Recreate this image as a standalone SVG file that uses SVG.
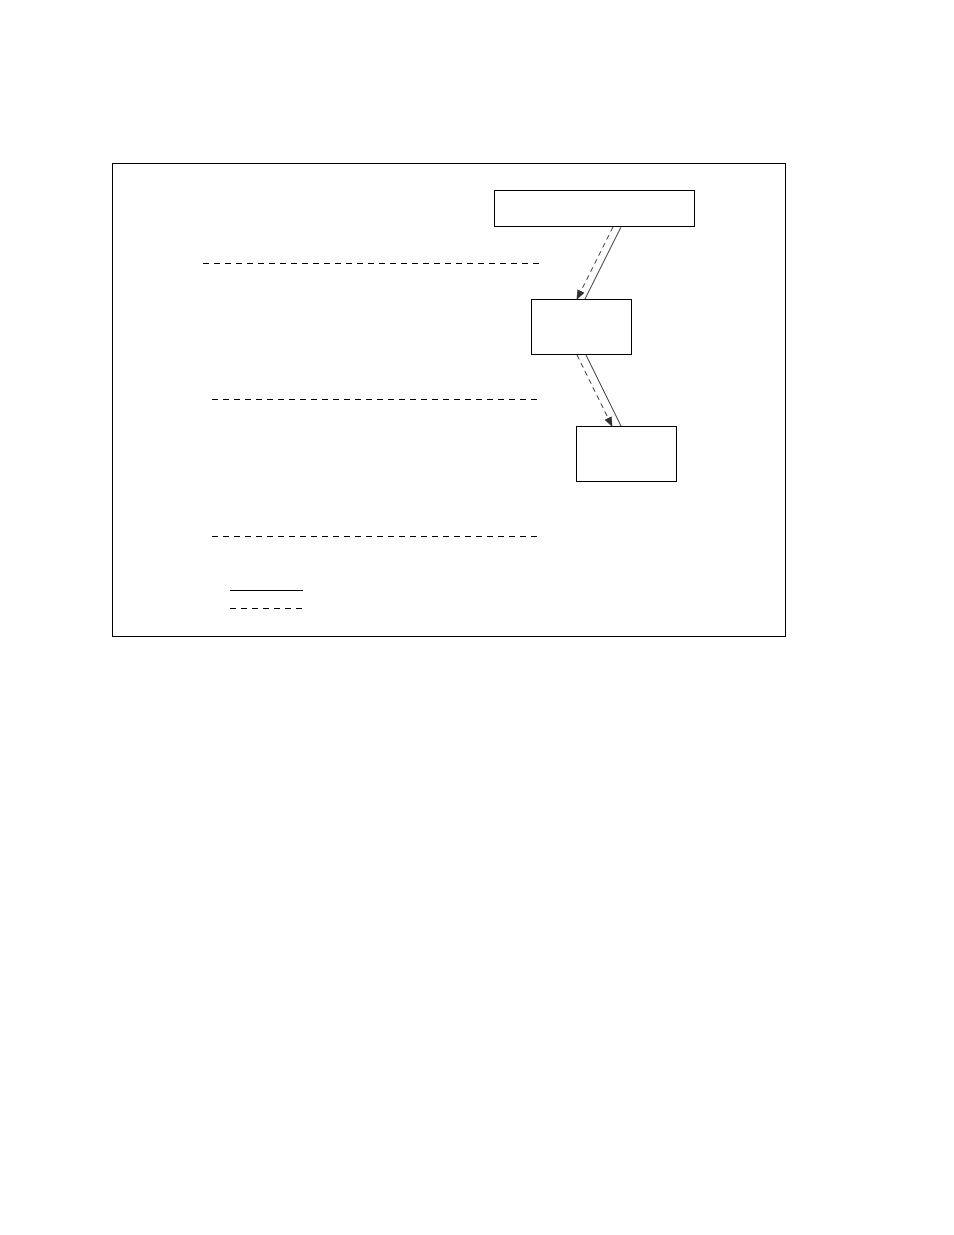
<svg xmlns="http://www.w3.org/2000/svg" width="954" height="1235" viewBox="0 0 954 1235">
<style>
.box{fill:#fff;stroke:#000;stroke-width:1}
.dash{fill:none;stroke:#000;stroke-width:1;stroke-dasharray:6 5}
.solid{fill:none;stroke:#000;stroke-width:1}
.conn{fill:none;stroke:#000;stroke-width:0.8}
.connd{fill:none;stroke:#000;stroke-width:0.8;stroke-dasharray:5 4}
</style>
<defs>
<marker id="arr" markerWidth="10" markerHeight="8" refX="9" refY="4" orient="auto" markerUnits="userSpaceOnUse">
<path d="M0,0 L10,4 L0,8 z" fill="#333"/>
</marker>
</defs>
<rect width="954" height="1235" fill="#fff"/>
<rect id="frame" x="112.5" y="163.5" width="673" height="473" class="box"/>
<g id="guides">
<line x1="203" y1="263.5" x2="541" y2="263.5" class="dash"/>
<line x1="212" y1="399.5" x2="541" y2="399.5" class="dash"/>
<line x1="212" y1="536.5" x2="541" y2="536.5" class="dash"/>
</g>
<g id="legend">
<line x1="230" y1="590.5" x2="303" y2="590.5" class="solid"/>
<line x1="230" y1="608.5" x2="303" y2="608.5" class="dash"/>
</g>
<g id="node-top"><rect x="494.5" y="190.5" width="200" height="36" class="box"/></g>
<g id="node-middle"><rect x="531.5" y="299.5" width="100" height="55" class="box"/></g>
<g id="node-bottom"><rect x="576.5" y="426.5" width="100" height="55" class="box"/></g>
<g id="connectors">
<line x1="621" y1="227" x2="585" y2="299" class="conn"/>
<line x1="613" y1="227" x2="577" y2="299" class="connd" marker-end="url(#arr)"/>
<line x1="586" y1="355" x2="621" y2="426" class="conn"/>
<line x1="577" y1="355" x2="612" y2="426" class="connd" marker-end="url(#arr)"/>
</g>
</svg>
